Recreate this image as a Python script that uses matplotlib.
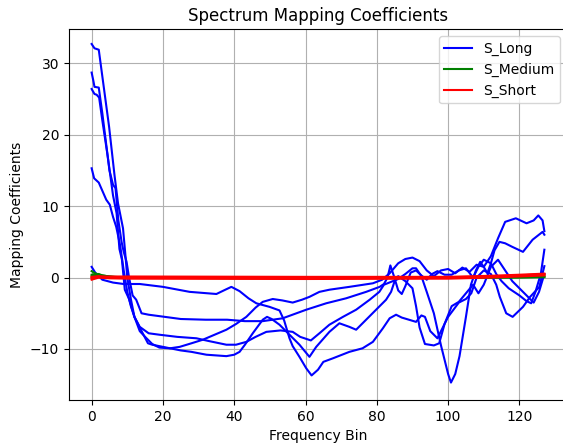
import matplotlib
matplotlib.use("Agg")
import matplotlib.pyplot as plt

# ---- data (knots: frequency bin, coefficient) ----
long_a_bins = [0, 0.8, 2, 4.9, 6.4, 7.4, 8.8, 9.5, 10, 11, 12, 13.5, 15.8, 17, 19, 22, 25, 28, 32.2, 37.8, 40, 41.5, 43, 45.2, 48, 49.2, 50.5, 52.7, 55.5, 58.3, 61.1, 63, 66.7, 69.5, 72.3, 74.2, 77, 79.8, 82.6, 84, 85, 86, 88, 90, 91, 92, 93.5, 96, 97.5, 99, 100, 101.5, 103, 105, 106.5, 108, 110, 112, 113.5, 114.5, 116.3, 118.1, 121, 123, 125.6, 126.5, 127]
long_a_vals = [32.7, 32.1, 31.9, 21.1, 14.4, 10.4, 6.9, 3, 0, -3, -5.5, -7.0, -9.2, -9.4, -9.6, -9.9, -10.2, -10.4, -10.8, -11.0, -10.8, -10.4, -9.4, -7.8, -5.9, -5.5, -5.8, -6.6, -8.0, -9.4, -11.1, -9.7, -7.6, -6.4, -6.9, -7.3, -5.9, -4.5, -3.1, -2.0, -0.5, 0.2, -0.5, -1.5, -4, -7, -9.3, -9.5, -9.2, -6.5, -5.5, -4.5, -3.5, -3.0, -2.2, 0.0, 1.0, 0.5, -1.0, -2.7, -5.0, -5.5, -4.1, -2.7, -1.3, 0.6, 1.6]

long_b_bins = [0, 0.5, 0.8, 2, 3, 5, 6, 6.7, 7.5, 8.4, 9, 9.8, 10.5, 11.5, 12.5, 14, 16, 19, 25, 32, 38, 43, 48, 53.6, 60.2, 65.8, 71.4, 77, 80.8, 82, 83, 83.8, 84.8, 86, 87, 88, 89.5, 91, 92.5, 94, 95.5, 97, 99, 101, 103, 105, 107, 108.5, 110, 112, 113.5, 115, 117, 120, 122, 123.3, 124.5, 126, 127]
long_b_vals = [28.7, 27.5, 26.7, 26.6, 23, 15, 13, 12.5, 8, 5, 3.6, 2.2, 0, -2.5, -3.1, -5.0, -5.2, -5.4, -5.8, -5.9, -5.9, -6.1, -6.1, -5.7, -4.5, -3.6, -2.9, -2.0, -1.3, -0.9, 0.0, 1.7, 0.2, -1.8, -2.3, -1.2, 0.7, 1.0, 0.3, -0.3, 0.5, 0.9, 0.4, 0.4, 1.0, 1.3, 0.0, 1.5, 2.5, 2.0, 0.5, -0.5, -1.5, -2.5, -3.3, -3.6, -2.0, 0.5, 3.9]

long_c_bins = [0, 0.8, 1.4, 2.1, 3, 4.5, 6, 7, 7.8, 8.5, 9.3, 10.5, 12, 13.5, 16, 19, 24, 29.4, 33, 37.8, 40.5, 43.4, 46, 49, 53, 56.4, 58.5, 61.5, 63.9, 66.7, 70.5, 74.2, 78, 80.7, 82, 84, 86, 88, 90, 91, 92.5, 94, 96, 98, 100, 100.8, 102, 103.2, 105, 106.4, 107.8, 109, 110, 111, 112, 113, 114.4, 116, 118, 121, 123.7, 126.5, 127]
long_c_vals = [26.4, 25.7, 25.6, 25.2, 22, 17, 11.5, 9, 4, 2.5, -1.7, -3, -5.5, -6.9, -7.8, -8.0, -8.3, -8.5, -8.9, -9.4, -9.4, -9.0, -8.3, -7.6, -7.4, -7.6, -8.3, -8.8, -7.8, -6.6, -5.5, -4.5, -3.1, -2.0, -1.0, -0.6, -0.2, 0.5, 1.3, 1.3, 0.2, -2, -5, -9.5, -13.5, -14.7, -13.5, -11, -5.5, -1.0, 1.0, 2.2, 1.5, 0.6, 2.0, 3.8, 5.0, 4.8, 4.3, 3.6, 5.3, 6.4, 6.0]

long_d_bins = [0, 0.7, 2, 4.1, 5.1, 6, 6.9, 8, 9, 10, 11, 12, 13.5, 15, 17, 19, 22, 24.7, 28, 31.2, 34.5, 37.8, 40.5, 43.4, 46, 48, 50.8, 53.5, 56.4, 59, 61.1, 63.9, 66.7, 72.3, 78.9, 81.5, 83.6, 86, 88, 90, 92, 94, 96, 98, 100, 102, 104, 106, 108, 110, 112, 114, 116, 119, 122, 124, 125.3, 126.5, 127]
long_d_vals = [15.3, 13.9, 13.3, 10.9, 10.2, 8.5, 7.1, 4.5, 1.0, -2, -4, -5.5, -7.5, -8.3, -9.3, -9.8, -9.9, -9.7, -9.2, -8.7, -8.0, -7.3, -6.5, -5.5, -4.2, -3.4, -3.0, -3.2, -3.5, -3.1, -2.7, -2.0, -1.7, -1.3, -0.8, -0.3, 0.6, 2.0, 2.6, 2.8, 2.3, 1.0, 0.2, 1.0, 1.2, 0.6, 1.4, 0.8, 1.8, 1.5, 3.0, 5.5, 7.8, 8.3, 7.6, 8.0, 8.7, 8.0, 6.5]

long_e_bins = [0, 1, 3, 6, 9, 13.5, 20, 27.5, 35, 37.5, 39.2, 41.5, 44, 46.2, 49.9, 52.7, 54, 55.5, 56.4, 58.3, 60.2, 61.7, 63.5, 65, 67.7, 72.3, 76, 78.9, 81.7, 83.6, 85.4, 87, 89, 91, 92.5, 93.5, 95, 97, 99, 101, 103, 105, 107, 108.5, 110, 112, 114, 116, 118, 120, 122, 124, 125.5, 127]
long_e_vals = [1.5, 0.7, -0.3, -0.7, -0.9, -0.9, -1.3, -2.0, -2.3, -1.7, -1.3, -1.9, -2.9, -3.6, -4.1, -4.6, -6.0, -8.5, -9.6, -11.1, -12.7, -13.7, -12.9, -11.8, -11.3, -10.4, -9.9, -9.0, -7.1, -5.7, -5.2, -5.6, -5.9, -6.2, -5.3, -5.5, -7.5, -8.5, -6.5, -4.0, -3.4, -2.2, -1.0, -2.2, -1.0, 1.5, 2.5, 1.0, -0.5, -1.5, -2.5, -3.5, -2.0, 0.5]

medium_bins = [0, 1, 2, 3, 5, 8, 10, 40, 80, 110, 120, 127]
medium_a_vals = [0.9, 0.6, 0.4, 0.3, 0.15, 0.05, 0.0, -0.05, -0.05, 0.0, 0.1, 0.2]
medium_b_vals = [0.4, 0.5, 0.5, 0.3, 0.15, 0.0, 0.0, -0.1, -0.05, 0.0, 0.05, 0.1]
medium_c_vals = [0.2, 0.3, 0.3, 0.2, 0.1, 0.0, 0.0, 0.0, 0.0, 0.0, 0.0, 0.05]

short_bins = [0, 2, 5, 10, 60, 100, 112, 120, 127]
short_a_vals = [-0.3, 0.0, -0.1, -0.15, -0.2, -0.15, 0.0, 0.15, 0.3]
short_b_vals = [0.1, 0.2, 0.05, 0.05, 0.05, 0.05, 0.15, 0.3, 0.5]
short_c_vals = [-0.1, 0.1, 0.15, 0.15, 0.1, 0.1, 0.25, 0.4, 0.55]
short_d_vals = [0.0, 0.05, 0.0, 0.0, -0.05, 0.0, 0.1, 0.25, 0.4]

x_ticks = [0, 20, 40, 60, 80, 100, 120]
y_ticks = [-10, 0, 10, 20, 30]

fig = plt.figure(figsize=(5.63, 4.46), dpi=100)
ax = fig.add_axes([69 / 563, 46 / 446, 498 / 563, 371 / 446])

long_series = [(long_a_bins, long_a_vals), (long_b_bins, long_b_vals),
               (long_c_bins, long_c_vals), (long_d_bins, long_d_vals),
               (long_e_bins, long_e_vals)]
for i, (xs, ys) in enumerate(long_series):
    ax.plot(xs, ys, color='b', lw=1.5, label='S_Long' if i == 0 else None)

for i, ys in enumerate([medium_a_vals, medium_b_vals, medium_c_vals]):
    ax.plot(medium_bins, ys, color='g', lw=1.5, label='S_Medium' if i == 0 else None)

for i, ys in enumerate([short_a_vals, short_b_vals, short_c_vals, short_d_vals]):
    ax.plot(short_bins, ys, color='r', lw=1.5, label='S_Short' if i == 0 else None)

ax.set_xlim(-6.35, 133.35)
ax.set_ylim(-17.14, 34.8)
ax.set_xticks(x_ticks)
ax.set_yticks(y_ticks)
ax.grid(True)
ax.set_title('Spectrum Mapping Coefficients')
ax.set_xlabel('Frequency Bin')
ax.set_ylabel('Mapping Coefficients')
ax.legend(loc='upper right')

fig.savefig('out.png', dpi=100)
